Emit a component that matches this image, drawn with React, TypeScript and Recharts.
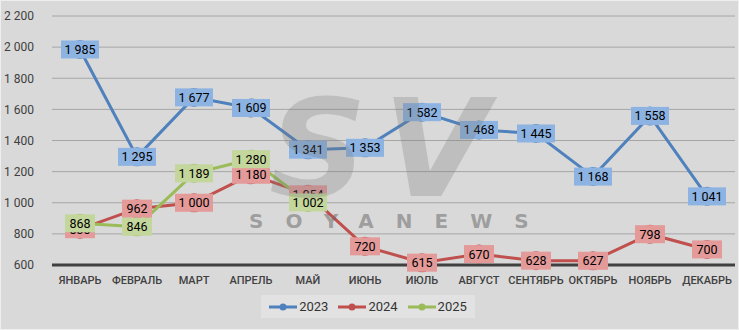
import React from "react";
import { LineChart, Line, XAxis, YAxis, CartesianGrid, Legend, ReferenceLine } from "recharts";

const months = ["ЯНВАРЬ", "ФЕВРАЛЬ", "МАРТ", "АПРЕЛЬ", "МАЙ", "ИЮНЬ", "ИЮЛЬ", "АВГУСТ", "СЕНТЯБРЬ", "ОКТЯБРЬ", "НОЯБРЬ", "ДЕКАБРЬ"];
const y2023 = [1985, 1295, 1677, 1609, 1341, 1353, 1582, 1468, 1445, 1168, 1558, 1041];
const y2024 = [830, 962, 1000, 1180, 1054, 720, 615, 670, 628, 627, 798, 700];
const y2025 = [868, 846, 1189, 1280, 1002];
const yTicks = [600, 800, 1000, 1200, 1400, 1600, 1800, 2000, 2200];

const data = months.map((m, i) => ({ month: m, y2023: y2023[i], y2024: y2024[i], y2025: y2025[i] }));

const series = [
  { key: "y2023", name: "2023", line: "#4f81bd", box: "#8db3e2" },
  { key: "y2024", name: "2024", line: "#c0504d", box: "#e39a99" },
  { key: "y2025", name: "2025", line: "#9bbb59", box: "#c3d69b" },
];

const narrow = "Roboto, sans-serif";

function fmt(v: number) {
  if (v < 1000) return String(v);
  return `${Math.floor(v / 1000)} ${String(v % 1000).padStart(3, "0")}`;
}

function boxLabel(fill: string) {
  return (props: any) => {
    const { x, y, value } = props;
    if (value == null) return null;
    const txt = fmt(value);
    const w = txt.length * 4 + 18;
    const h = 18;
    return (
      <g>
        <rect x={x - w / 2} y={y - h / 2} width={w} height={h} fill={fill} />
        <text x={x} y={y + 4.5} textAnchor="middle" fontSize={12.5} fill="#000" fontFamily={narrow}>
          {txt}
        </text>
      </g>
    );
  };
}

function LegendBox() {
  return (
    <div style={{ display: "flex", justifyContent: "center" }}>
      <div style={{ display: "flex", gap: 10, background: "#e2e2e2", padding: "4px 8px", fontSize: 13, color: "#333", fontFamily: narrow }}>
        {series.map((s) => (
          <div key={s.key} style={{ display: "flex", alignItems: "center", gap: 2 }}>
            <svg width={28} height={10}>
              <line x1={0} y1={5} x2={28} y2={5} stroke={s.line} strokeWidth={3} />
              <circle cx={14} cy={5} r={3.5} fill={s.line} />
            </svg>
            <span>{s.name}</span>
          </div>
        ))}
      </div>
    </div>
  );
}

export default function App() {
  return (
    <div style={{ position: "absolute", left: 0, top: 0, width: 739, height: 330, background: "#d9d9d9", fontFamily: "'Liberation Sans', Arial, sans-serif", boxSizing: "border-box", border: "1px solid #eeeeee" }}>
      <LineChart width={737} height={328} data={data} margin={{ top: 15, right: 3, bottom: 4, left: 0 }}>
        <CartesianGrid vertical={false} stroke="#a6a6a6" />
        <XAxis
          dataKey="month"
          axisLine={false}
          tickLine={false}
          tick={{ fill: "#404040", fontSize: 11, fontFamily: narrow, fontWeight: 500, dy: 3 }}
          height={30}
          interval={0}
          padding={{ left: 28, right: 28 }}
        />
        <YAxis
          domain={[600, 2200]}
          ticks={yTicks}
          tickFormatter={fmt}
          axisLine={false}
          tickLine={false}
          width={51}
          tick={{ fill: "#404040", fontSize: 12, dx: -10, fontFamily: narrow }}
        />
        <ReferenceLine y={600} stroke="#404040" strokeWidth={3} />
        <Legend verticalAlign="bottom" height={30} content={() => <LegendBox />} />
        {series.map((s) => (
          <Line
            key={s.key}
            dataKey={s.key}
            name={s.name}
            stroke={s.line}
            strokeWidth={3}
            dot={{ r: 8, fill: s.line, stroke: s.line }}
            activeDot={false}
            isAnimationActive={false}
            label={boxLabel(s.box)}
          />
        ))}
      </LineChart>
      <div style={{ position: "absolute", left: 268, top: 80, fontSize: 136, fontStyle: "italic", fontWeight: 700, letterSpacing: 16, fontFamily: "'DejaVu Sans', sans-serif", color: "rgba(120,120,120,0.27)", pointerEvents: "none", lineHeight: 1 }}>
        SV
      </div>
      <div style={{ position: "absolute", left: 248, top: 208, fontSize: 20, fontWeight: 700, letterSpacing: 22, fontFamily: "'DejaVu Sans', sans-serif", color: "rgba(100,100,100,0.5)", pointerEvents: "none" }}>
        SOYANEWS
      </div>
    </div>
  );
}
